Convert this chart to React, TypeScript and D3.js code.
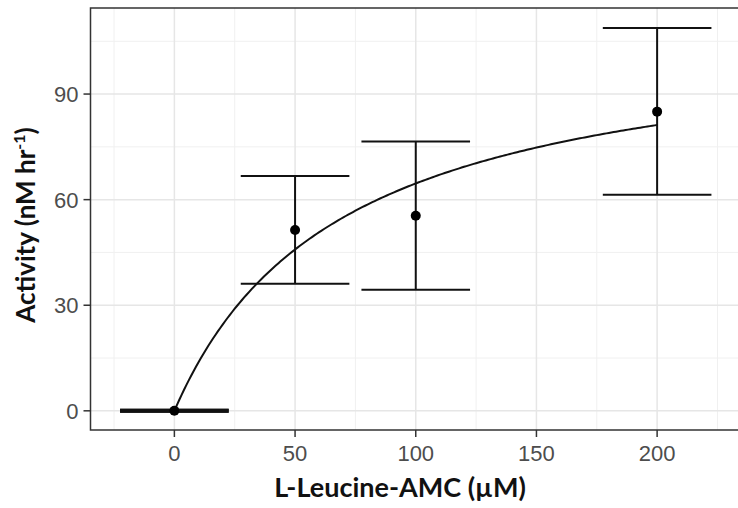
import React from "react";
import * as d3 from "d3";

const concentrations = [0, 50, 100, 200];
const meanActivity = [0, 51.4, 55.4, 85.0];
const errorLow = [0, 36.1, 34.4, 61.4];
const errorHigh = [0, 66.7, 76.5, 108.8];
const xTicks = [0, 50, 100, 150, 200];
const yTicks = [0, 30, 60, 90];
const xMinor = [-25, 25, 75, 125, 175, 225];
const yMinor = [15, 45, 75, 105];
const fitVmax = 109.3;
const fitKm = 69.2;

const W = 738;
const H = 508;

export default function App() {
  const x = d3.scaleLinear().domain([-34.75, 234.75]).range([90.5, 741]);
  const y = d3.scaleLinear().domain([-5.45, 114.45]).range([430, 8]);
  const [px0, px1] = x.range();
  const [py1, py0] = y.range();
  const halfW = 22.5;

  const curveData = d3.range(0, 200.01, 1).map((c) => [c, (fitVmax * c) / (fitKm + c)] as [number, number]);
  const line = d3
    .line<[number, number]>()
    .x((d) => x(d[0]))
    .y((d) => y(d[1]))
    .curve(d3.curveLinear);

  const tickFont = "'Liberation Sans', Arial, sans-serif";
  const titleFont = "Lato, 'Open Sans', sans-serif";

  return (
    <svg width={W} height={H} style={{ position: "absolute", left: 0, top: 0, background: "#fff", overflow: "hidden" }}>
      <rect x={0} y={0} width={W} height={H} fill="#fff" />
      {/* minor grid */}
      {xMinor.map((v) => (
        <line key={"xm" + v} x1={x(v)} x2={x(v)} y1={py0} y2={py1} stroke="#f0f0f0" strokeWidth={1} />
      ))}
      {yMinor.map((v) => (
        <line key={"ym" + v} x1={px0} x2={W} y1={y(v)} y2={y(v)} stroke="#f0f0f0" strokeWidth={1} />
      ))}
      {/* major grid */}
      {xTicks.map((v) => (
        <line key={"xg" + v} x1={x(v)} x2={x(v)} y1={py0} y2={py1} stroke="#e6e6e6" strokeWidth={1.5} />
      ))}
      {yTicks.map((v) => (
        <line key={"yg" + v} x1={px0} x2={W} y1={y(v)} y2={y(v)} stroke="#e6e6e6" strokeWidth={1.5} />
      ))}

      {/* fit curve */}
      <path d={line(curveData) || ""} fill="none" stroke="#111" strokeWidth={2} />

      {/* error bars */}
      {concentrations.map((c, i) => (
        <g key={"eb" + c} stroke="#111" strokeWidth={i === 0 ? 4 : 2}>
          <line x1={x(c)} x2={x(c)} y1={y(errorLow[i])} y2={y(errorHigh[i])} />
          <line x1={x(c - halfW)} x2={x(c + halfW)} y1={y(errorLow[i])} y2={y(errorLow[i])} />
          <line x1={x(c - halfW)} x2={x(c + halfW)} y1={y(errorHigh[i])} y2={y(errorHigh[i])} />
        </g>
      ))}
      {/* points */}
      {concentrations.map((c, i) => (
        <circle key={"pt" + c} cx={x(c)} cy={y(meanActivity[i])} r={5} fill="#000" />
      ))}

      {/* panel border (right edge falls outside the picture) */}
      <path
        d={`M${W},${py0}H${px0}V${py1}H${W}`}
        fill="none"
        stroke="#333"
        strokeWidth={1.5}
      />

      {/* y axis ticks */}
      {yTicks.map((v) => (
        <g key={"yt" + v}>
          <line x1={px0 - 7} x2={px0} y1={y(v)} y2={y(v)} stroke="#333" strokeWidth={1.5} />
          <text x={px0 - 12} y={y(v)} dy="0.36em" textAnchor="end" fontFamily={tickFont} fontSize={22} fill="#4d4d4d">
            {v}
          </text>
        </g>
      ))}
      {/* x axis ticks */}
      {xTicks.map((v) => (
        <g key={"xt" + v}>
          <line x1={x(v)} x2={x(v)} y1={py1} y2={py1 + 7} stroke="#333" strokeWidth={1.5} />
          <text x={x(v)} y={py1 + 31} textAnchor="middle" fontFamily={tickFont} fontSize={22} fill="#4d4d4d">
            {v}
          </text>
        </g>
      ))}

      {/* axis titles */}
      <text x={400} y={497} textAnchor="middle" fontFamily={titleFont} fontWeight={700} fontSize={27} fill="#111">
        L-Leucine-AMC (µM)
      </text>
      <text
        transform={`translate(35, 225) rotate(-90)`}
        textAnchor="middle"
        fontFamily={titleFont}
        fontWeight={700}
        fontSize={26}
        fill="#111"
      >
        Activity (nM hr
        <tspan fontSize={16} dy={-10}>-1</tspan>
        <tspan dy={10}>)</tspan>
      </text>
    </svg>
  );
}
